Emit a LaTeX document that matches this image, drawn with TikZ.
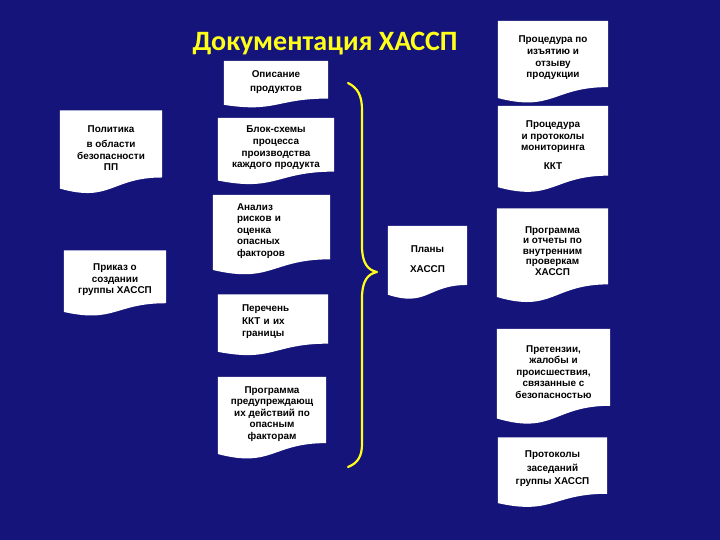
\documentclass[tikz,border=0pt]{standalone}
\usepackage{fontspec}
\setmainfont{Liberation Sans}
\newfontfamily\titlefont{Carlito}
\usetikzlibrary{backgrounds, calc}
\definecolor{navy}{HTML}{14147A}
\definecolor{gold}{HTML}{FFFF1A}
\definecolor{ink}{HTML}{000000}
\tikzset{
  doc/.style={inner sep=0pt, align=center, text=ink,
    font=\bfseries\fontsize{9.9}{11.6}\selectfont},
  docl/.style={doc, align=left, inner xsep=24pt},
  paper/.style={fill=white},
  brace/.style={draw=gold, line width=2.2pt, line cap=round, line join=round},
  ttl/.style={text=gold, font=\titlefont\bfseries\fontsize{28}{32}\selectfont},
}

\begin{document}
\begin{tikzpicture}[x=1pt, y=-1pt]
  \useasboundingbox (0,0) rectangle (720,540);
  \node[ttl] (title) at (325,44) {Документация ХАССП};
  % left column
  \node[doc, minimum width=102, minimum height=75] (polit) at (111,148) {Политика\\[4pt]в области\\безопасности\\ПП};
  \node[doc, minimum width=102, minimum height=59] (prikaz) at (115,280) {Приказ о\\создании\\группы ХАССП};
  % middle column
  \node[doc, minimum width=104, minimum height=42] (opis) at (276,82) {Описание\\[2pt]продуктов};
  \node[doc, minimum width=116, minimum height=60] (blok) at (276,148) {Блок-схемы\\процесса\\производства\\каждого продукта};
  \node[docl, text width=69, minimum height=72] (analiz) at (271.5,231) {Анализ\\рисков и\\оценка\\опасных\\факторов};
  \node[docl, text width=62, minimum height=55] (perech) at (273,322) {Перечень\\[1pt]ККТ и их\\[1pt]границы};
  \node[doc, minimum width=108, minimum height=74] (progpred) at (272,414) {Программа\\предупреждающ\\их действий по\\опасным\\факторам};
  % plans
  \node[doc, minimum width=79, minimum height=66] (plany) at (427.5,259) {Планы\\[8pt]ХАССП};
  % right column
  \node[doc, minimum width=110, minimum height=74] (otzyv) at (553,58) {Процедура по\\изъятию и\\отзыву\\продукции};
  \node[doc, minimum width=110, minimum height=78] (monit) at (553,145) {Процедура\\и протоколы\\мониторинга\\[7pt]ККТ};
  \node[doc, minimum width=111, minimum height=85] (audit) at (552.5,251) {Программа\\[-1pt]и отчеты по\\[-1pt]внутренним\\[-1pt]проверкам\\[-1pt]ХАССП};
  \node[doc, minimum width=113, minimum height=86] (pretenz) at (553.5,372) {Претензии,\\жалобы и\\происшествия,\\связанные с\\безопасностью};
  \node[doc, minimum width=109, minimum height=63] (protok) at (552.5,469) {Протоколы\\[2pt]заседаний\\[2pt]группы ХАССП};
  % paper sheets with wavy bottom
  \begin{scope}[on background layer]
    \fill[navy] (0,0) rectangle (720,540);
    \foreach \nm in {polit, prikaz, opis, blok, analiz, perech, progpred, plany, otzyv, monit, audit, pretenz, protok}
      \fill[paper] let \p1=(\nm.north west), \p2=(\nm.south east), \n1={\y1-\y2} in
        (\x1,\y1) -- (\x2,\y1) -- (\x2,{\y1-0.891*\n1})
        .. controls ({(\x1+\x2)/2},{\y1-0.891*\n1}) and ({(\x1+\x2)/2},{\y1-1.231*\n1}) ..
        (\x1,{\y1-1.038*\n1}) -- cycle;
  \end{scope}
  % brace
  \coordinate (brtop) at (348,83);
  \coordinate (brtip) at (377,272);
  \coordinate (brbot) at (348,467);
  \draw[brace] (brtop) .. controls (358,88) and (362,96) .. (362,110) -- (362,246)
    .. controls (362,262) and (367,270) .. (brtip)
    .. controls (367,274) and (362,282) .. (362,298) -- (362,444)
    .. controls (362,456) and (358,463) .. (brbot);
\end{tikzpicture}
\end{document}
